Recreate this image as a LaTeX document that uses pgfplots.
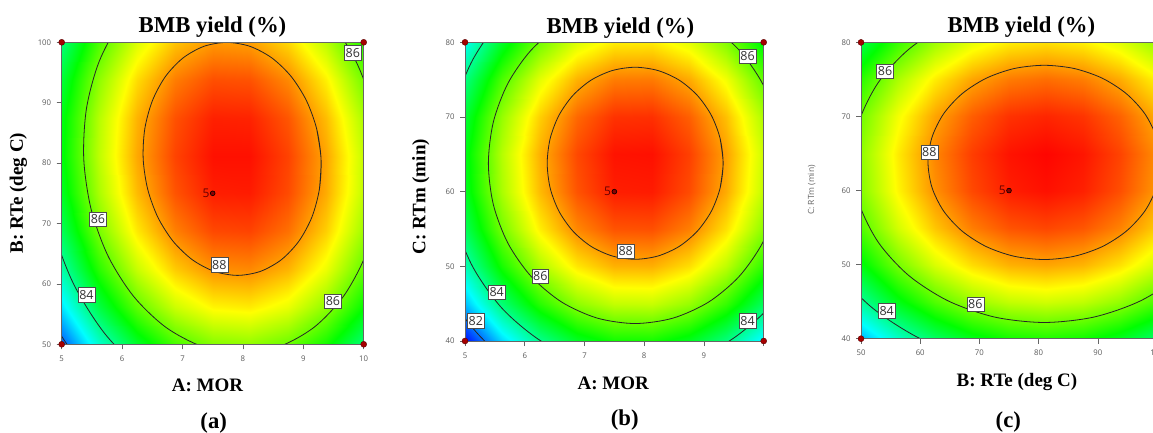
\documentclass[border=0pt]{standalone}
\usepackage{pgfplots}
\usepackage{pgfplotstable}
\pgfplotsset{compat=1.18}
\usepackage{fontspec}
\setmainfont{Liberation Serif}
\newfontfamily\sans{Open Sans}

% response grids (9 x 9, x varies fastest)
\pgfplotstableread[row sep=\\]{
A B Y\\
5 50 81.74\\ 5.625 50 83.45\\ 6.25 50 84.76\\ 6.875 50 85.67\\ 7.5 50 86.17\\ 8.125 50 86.27\\ 8.75 50 85.96\\ 9.375 50 85.25\\ 10 50 84.14\\
5 56.25 82.87\\ 5.625 56.25 84.56\\ 6.25 56.25 85.85\\ 6.875 56.25 86.74\\ 7.5 56.25 87.22\\ 8.125 56.25 87.30\\ 8.75 56.25 86.98\\ 9.375 56.25 86.25\\ 10 56.25 85.12\\
5 62.5 83.76\\ 5.625 62.5 85.43\\ 6.25 62.5 86.71\\ 6.875 62.5 87.57\\ 7.5 62.5 88.04\\ 8.125 62.5 88.10\\ 8.75 62.5 87.76\\ 9.375 62.5 87.01\\ 10 62.5 85.86\\
5 68.75 84.41\\ 5.625 68.75 86.07\\ 6.25 68.75 87.32\\ 6.875 68.75 88.17\\ 7.5 68.75 88.62\\ 8.125 68.75 88.66\\ 8.75 68.75 88.30\\ 9.375 68.75 87.53\\ 10 68.75 86.36\\
5 75 84.83\\ 5.625 75 86.47\\ 6.25 75 87.70\\ 6.875 75 88.53\\ 7.5 75 88.96\\ 8.125 75 88.98\\ 8.75 75 88.60\\ 9.375 75 87.82\\ 10 75 86.63\\
5 81.25 85.01\\ 5.625 81.25 86.63\\ 6.25 81.25 87.85\\ 6.875 81.25 88.66\\ 7.5 81.25 89.07\\ 8.125 81.25 89.07\\ 8.75 81.25 88.67\\ 9.375 81.25 87.87\\ 10 81.25 86.66\\
5 87.5 84.96\\ 5.625 87.5 86.56\\ 6.25 87.5 87.76\\ 6.875 87.5 88.55\\ 7.5 87.5 88.94\\ 8.125 87.5 88.92\\ 8.75 87.5 88.51\\ 9.375 87.5 87.68\\ 10 87.5 86.46\\
5 93.75 84.67\\ 5.625 93.75 86.25\\ 6.25 93.75 87.43\\ 6.875 93.75 88.20\\ 7.5 93.75 88.57\\ 8.125 93.75 88.54\\ 8.75 93.75 88.10\\ 9.375 93.75 87.26\\ 10 93.75 86.02\\
5 100 84.14\\ 5.625 100 85.70\\ 6.25 100 86.86\\ 6.875 100 87.62\\ 7.5 100 87.97\\ 8.125 100 87.92\\ 8.75 100 87.46\\ 9.375 100 86.60\\ 10 100 85.34\\
}\gridAB

\pgfplotstableread[row sep=\\]{
A C Y\\
5 40 81.09\\ 5.625 40 82.73\\ 6.25 40 83.96\\ 6.875 40 84.79\\ 7.5 40 85.22\\ 8.125 40 85.24\\ 8.75 40 84.86\\ 9.375 40 84.08\\ 10 40 82.89\\
5 45 82.53\\ 5.625 45 84.17\\ 6.25 45 85.41\\ 6.875 45 86.24\\ 7.5 45 86.66\\ 8.125 45 86.69\\ 8.75 45 86.31\\ 9.375 45 85.52\\ 10 45 84.33\\
5 50 83.64\\ 5.625 50 85.28\\ 6.25 50 86.51\\ 6.875 50 87.34\\ 7.5 50 87.77\\ 8.125 50 87.79\\ 8.75 50 87.41\\ 9.375 50 86.63\\ 10 50 85.44\\
5 55 84.40\\ 5.625 55 86.04\\ 6.25 55 87.28\\ 6.875 55 88.11\\ 7.5 55 88.53\\ 8.125 55 88.56\\ 8.75 55 88.18\\ 9.375 55 87.39\\ 10 55 86.20\\
5 60 84.83\\ 5.625 60 86.47\\ 6.25 60 87.70\\ 6.875 60 88.53\\ 7.5 60 88.96\\ 8.125 60 88.98\\ 8.75 60 88.60\\ 9.375 60 87.82\\ 10 60 86.63\\
5 65 84.92\\ 5.625 65 86.56\\ 6.25 65 87.79\\ 6.875 65 88.62\\ 7.5 65 89.05\\ 8.125 65 89.07\\ 8.75 65 88.69\\ 9.375 65 87.91\\ 10 65 86.72\\
5 70 84.67\\ 5.625 70 86.31\\ 6.25 70 87.54\\ 6.875 70 88.37\\ 7.5 70 88.80\\ 8.125 70 88.82\\ 8.75 70 88.44\\ 9.375 70 87.66\\ 10 70 86.47\\
5 75 84.08\\ 5.625 75 85.72\\ 6.25 75 86.95\\ 6.875 75 87.78\\ 7.5 75 88.21\\ 8.125 75 88.23\\ 8.75 75 87.85\\ 9.375 75 87.07\\ 10 75 85.88\\
5 80 83.15\\ 5.625 80 84.79\\ 6.25 80 86.02\\ 6.875 80 86.85\\ 7.5 80 87.28\\ 8.125 80 87.30\\ 8.75 80 86.92\\ 9.375 80 86.14\\ 10 80 84.95\\
}\gridAC

\pgfplotstableread[row sep=\\]{
B C Y\\
50 40 82.43\\ 56.25 40 83.48\\ 62.5 40 84.30\\ 68.75 40 84.88\\ 75 40 85.22\\ 81.25 40 85.33\\ 87.5 40 85.20\\ 93.75 40 84.83\\ 100 40 84.23\\
50 45 83.87\\ 56.25 45 84.93\\ 62.5 45 85.74\\ 68.75 45 86.32\\ 75 45 86.66\\ 81.25 45 86.77\\ 87.5 45 86.64\\ 93.75 45 86.28\\ 100 45 85.67\\
50 50 84.98\\ 56.25 50 86.03\\ 62.5 50 86.85\\ 68.75 50 87.42\\ 75 50 87.77\\ 81.25 50 87.87\\ 87.5 50 87.75\\ 93.75 50 87.38\\ 100 50 86.78\\
50 55 85.74\\ 56.25 55 86.80\\ 62.5 55 87.61\\ 68.75 55 88.19\\ 75 55 88.53\\ 81.25 55 88.64\\ 87.5 55 88.51\\ 93.75 55 88.15\\ 100 55 87.54\\
50 60 86.17\\ 56.25 60 87.22\\ 62.5 60 88.04\\ 68.75 60 88.62\\ 75 60 88.96\\ 81.25 60 89.07\\ 87.5 60 88.94\\ 93.75 60 88.57\\ 100 60 87.97\\
50 65 86.26\\ 56.25 65 87.31\\ 62.5 65 88.13\\ 68.75 65 88.71\\ 75 65 89.05\\ 81.25 65 89.16\\ 87.5 65 89.03\\ 93.75 65 88.66\\ 100 65 88.06\\
50 70 86.01\\ 56.25 70 87.06\\ 62.5 70 87.88\\ 68.75 70 88.45\\ 75 70 88.80\\ 81.25 70 88.90\\ 87.5 70 88.78\\ 93.75 70 88.41\\ 100 70 87.81\\
50 75 85.42\\ 56.25 75 86.47\\ 62.5 75 87.29\\ 68.75 75 87.87\\ 75 75 88.21\\ 81.25 75 88.32\\ 87.5 75 88.19\\ 93.75 75 87.82\\ 100 75 87.22\\
50 80 84.49\\ 56.25 80 85.54\\ 62.5 80 86.36\\ 68.75 80 86.94\\ 75 80 87.28\\ 81.25 80 87.39\\ 87.5 80 87.26\\ 93.75 80 86.89\\ 100 80 86.29\\
}\gridBC

\pgfplotsset{
  colormap={dx}{rgb255=(0,0,255) rgb255=(0,255,255) rgb255=(0,255,0) rgb255=(255,255,0) rgb255=(255,0,0)},
  rsm/.style={
    scale only axis, view={0}{90}, colormap name=dx,
    point meta min=81, point meta max=89.2,
    zmin=80, zmax=95, ztick=\empty,
    enlargelimits=false, axis on top,
    tick pos=left, tick align=outside, major tick length=5pt,
    tick style={black!60, line width=0.5pt},
    axis line style={black!60, line width=0.6pt},
    tick label style={font=\sans\fontsize{7.8}{9}\selectfont, text=black!65},
    /pgf/number format/assume math mode=true,
    xticklabel style={yshift=-3pt}, yticklabel style={xshift=-2pt},
  },
  cline/.style={black!85, line width=0.8pt, smooth, no markers},
  corners/.style={only marks, mark=*, mark size=3pt,
    mark options={fill=red!65!black, draw=red!35!black, line width=0.4pt}},
  centre/.style={only marks, mark=*, mark size=2.4pt,
    mark options={fill=red!55!black, draw=black, line width=0.6pt},
    nodes near coords={5},
    every node near coord/.style={anchor=east, inner sep=0.5pt, xshift=-2.5pt,
      font=\sans\fontsize{12}{13}\selectfont, text=red!40!black}},
}
\tikzset{
  clab/.style={draw=black!70, fill=white, line width=0.5pt, inner xsep=1.3pt, inner ysep=2.6pt,
    font=\sans\fontsize{12.5}{13}\selectfont, text=black!80},
  ttl/.style={anchor=base, font=\fontsize{22.7}{26}\selectfont\bfseries},
  lab/.style={anchor=base, font=\fontsize{19}{22}\selectfont\bfseries},
}

\begin{document}
\begin{tikzpicture}

% (a) A: MOR vs B: RTe
\begin{axis}[rsm, at={(61.7pt,87.7pt)}, width=302pt, height=302pt,
  xmin=5, xmax=10, ymin=50, ymax=100,
  xtick={5,6,7,8,9,10}, ytick={50,60,70,80,90,100}]
\addplot3[surf, shader=interp, mesh/cols=9] table[x=A, y=B, z=Y] {\gridAB};
\addplot3[cline] coordinates {(9.267,75.71,90) (9.294,80.70,90) (9.221,85.69,90) (9.052,90.34,90) (8.800,94.33,90) (8.481,97.40,90) (8.117,99.33,90) (7.732,99.98,90) (7.354,99.33,90) (7.008,97.40,90) (6.717,94.33,90) (6.502,90.34,90) (6.376,85.69,90) (6.349,80.70,90) (6.423,75.71,90) (6.591,71.05,90) (6.844,67.06,90) (7.163,64.00,90) (7.527,62.07,90) (7.911,61.41,90) (8.289,62.07,90) (8.636,64.00,90) (8.926,67.06,90) (9.142,71.05,90) (9.267,75.71,90) (9.294,80.70,90) (9.221,85.69,90)};
\addplot3[cline] coordinates {(10.279,80.70,90) (10.157,89.03,90) (9.875,96.79,90) (9.454,103.45,90) (8.921,108.57,90) (8.314,111.78,90) (7.672,112.88,90) (7.042,111.78,90) (6.464,108.57,90) (5.979,103.45,90) (5.619,96.79,90) (5.410,89.03,90) (5.365,80.70,90) (5.487,72.37,90) (5.768,64.61,90) (6.190,57.94,90) (6.722,52.83,90) (7.330,49.62,90) (7.971,48.52,90) (8.602,49.62,90) (9.180,52.83,90) (9.665,57.94,90) (10.025,64.61,90) (10.234,72.37,90) (10.279,80.70,90)};
\addplot3[cline] coordinates {(4.674,80.70,90) (4.831,70.03,90) (5.192,60.09,90) (5.731,51.55,90) (6.414,45.00,90) (7.192,40.88,90)};
\addplot3[cline] coordinates {(4.72,56.39,90) (5.014,51.10,90) (5.357,46.32,90)};
\addplot3[corners] coordinates {(5,50,90) (10,50,90) (5,100,90) (10,100,90)};
\addplot3[centre] coordinates {(7.5,75,90)};
\node[clab] at (axis cs:9.82,98.3,90) {86};
\node[clab] at (axis cs:5.60,70.7,90) {86};
\node[clab] at (axis cs:7.61,63.2,90) {88};
\node[clab] at (axis cs:5.41,58.2,90) {84};
\node[clab] at (axis cs:9.49,57.1,90) {86};
\end{axis}

% (b) A: MOR vs C: RTm
\begin{axis}[rsm, at={(465pt,91pt)}, width=298.7pt, height=298.7pt,
  xmin=5, xmax=10, ymin=40, ymax=80,
  xtick={5,6,7,8,9,10}, xticklabels={5,6,7,8,9,{}}, ytick={40,50,60,70,80}]
\addplot3[surf, shader=interp, mesh/cols=9] table[x=A, y=C, z=Y] {\gridAC};
\addplot3[cline] coordinates {(9.270,60.47,90) (9.321,63.80,90) (9.270,67.13,90) (9.123,70.23,90) (8.889,72.89,90) (8.584,74.94,90) (8.229,76.22,90) (7.848,76.66,90) (7.467,76.22,90) (7.112,74.94,90) (6.807,72.89,90) (6.573,70.23,90) (6.426,67.13,90) (6.376,63.80,90) (6.426,60.47,90) (6.573,57.37,90) (6.807,54.71,90) (7.112,52.66,90) (7.467,51.38,90) (7.848,50.94,90) (8.229,51.38,90) (8.584,52.66,90) (8.889,54.71,90) (9.123,57.37,90) (9.270,60.47,90) (9.321,63.80,90) (9.270,67.13,90)};
\addplot3[cline] coordinates {(10.305,63.80,90) (10.222,69.35,90) (9.976,74.53,90) (9.586,78.98,90) (9.077,82.39,90) (8.484,84.53,90) (7.848,85.26,90) (7.212,84.53,90) (6.619,82.39,90) (6.110,78.98,90) (5.720,74.53,90) (5.475,69.35,90) (5.391,63.80,90) (5.475,58.25,90) (5.720,53.07,90) (6.110,48.62,90) (6.619,45.21,90) (7.212,43.07,90) (7.848,42.34,90) (8.484,43.07,90) (9.077,45.21,90) (9.586,48.62,90) (9.976,53.07,90) (10.222,58.25,90) (10.305,63.80,90)};
\addplot3[cline] coordinates {(10.996,63.80,90) (10.889,70.92,90) (10.574,77.55,90) (10.074,83.24,90) (9.422,87.61,90) (8.663,90.36,90) (7.848,91.29,90) (7.033,90.36,90) (6.274,87.61,90) (5.622,83.24,90) (5.122,77.55,90) (4.808,70.92,90) (4.700,63.80,90) (4.808,56.69,90) (5.122,50.05,90) (5.622,44.36,90) (6.274,39.99,90) (7.033,37.25,90) (7.848,36.31,90) (8.663,37.25,90) (9.422,39.99,90) (10.074,44.36,90) (10.574,50.05,90) (10.889,56.69,90) (10.996,63.80,90)};
\addplot3[cline] coordinates {(4.634,47.59,90) (4.903,44.06,90) (5.223,40.88,90) (5.588,38.08,90) (5.992,35.72,90)};
\addplot3[corners] coordinates {(5,40,90) (10,40,90) (5,80,90) (10,80,90)};
\addplot3[centre] coordinates {(7.5,60,90)};
\node[clab] at (axis cs:9.73,78.1,90) {86};
\node[clab] at (axis cs:7.69,52.0,90) {88};
\node[clab] at (axis cs:6.26,48.7,90) {86};
\node[clab] at (axis cs:5.53,46.5,90) {84};
\node[clab] at (axis cs:5.18,42.7,90) {82};
\node[clab] at (axis cs:9.73,42.7,90) {84};
\end{axis}

% (c) B: RTe vs C: RTm
\begin{axis}[rsm, at={(861pt,93.3pt)}, width=296pt, height=296.3pt,
  xmin=50, xmax=100, ymin=40, ymax=80,
  xtick={50,60,70,80,90,100}, ytick={40,50,60,70,80}]
\addplot3[surf, shader=interp, mesh/cols=9] table[x=B, y=C, z=Y] {\gridBC};
\addplot3[cline] coordinates {(99.91,60.41,90) (100.58,63.80,90) (99.91,67.19,90) (97.95,70.36,90) (94.83,73.07,90) (90.77,75.16,90) (86.03,76.47,90) (80.95,76.91,90) (75.87,76.47,90) (71.14,75.16,90) (67.07,73.07,90) (63.95,70.36,90) (61.99,67.19,90) (61.32,63.80,90) (61.99,60.41,90) (63.95,57.24,90) (67.07,54.53,90) (71.14,52.44,90) (75.87,51.13,90) (80.95,50.69,90) (86.03,51.13,90) (90.77,52.44,90) (94.83,54.53,90) (97.95,57.24,90) (99.91,60.41,90) (100.58,63.80,90) (99.91,67.19,90)};
\addplot3[cline] coordinates {(113.30,63.80,90) (112.20,69.39,90) (108.97,74.61,90) (103.83,79.08,90) (97.13,82.52,90) (89.33,84.68,90) (80.95,85.41,90) (72.58,84.68,90) (64.78,82.52,90) (58.08,79.08,90) (52.94,74.61,90) (49.70,69.39,90) (48.60,63.80,90) (49.70,58.21,90) (52.94,52.99,90) (58.08,48.52,90) (64.78,45.08,90) (72.58,42.92,90) (80.95,42.19,90) (89.33,42.92,90) (97.13,45.08,90) (103.83,48.52,90) (108.97,52.99,90) (112.20,58.21,90) (113.30,63.80,90)};
\addplot3[cline] coordinates {(41.03,56.65,90) (45.16,49.99,90) (51.73,44.28,90) (60.29,39.89,90) (70.26,37.13,90)};
\addplot3[corners] coordinates {(50,40,90) (100,40,90) (50,80,90) (100,80,90)};
\addplot3[centre] coordinates {(75,60,90)};
\node[clab] at (axis cs:54.06,76.13,90) {86};
\node[clab] at (axis cs:61.55,65.15,90) {88};
\node[clab] at (axis cs:69.32,44.68,90) {86};
\node[clab] at (axis cs:54.34,43.78,90) {84};
\end{axis}

% titles, axis names and panel letters
\node[ttl] at (212.5pt,399.7pt) {BMB yield (\%)};
\node[ttl] at (620.3pt,398.7pt) {BMB yield (\%)};
\node[ttl] at (1021.3pt,399.7pt) {BMB yield (\%)};
\node[lab] at (207.5pt,40.3pt) {A: MOR};
\node[lab] at (613.3pt,42.7pt) {A: MOR};
\node[lab] at (1017pt,45.3pt) {B: RTe (deg C)};
\node[lab, anchor=center, inner sep=0pt, rotate=90] at (18.3pt,239pt) {B: RTe (deg C)};
\node[lab, anchor=center, inner sep=0pt, rotate=90] at (420.8pt,235.3pt) {C: RTm (min)};
\node[rotate=90, inner sep=0pt, font=\sans\fontsize{8.5}{10}\selectfont, text=black!60] at (811.7pt,242pt) {C: RTm (min)};
\node[ttl] at (213.7pt,3.7pt) {(a)};
\node[ttl] at (624.7pt,7pt) {(b)};
\node[ttl] at (1008.3pt,4.3pt) {(c)};

\pgfresetboundingbox
\path[use as bounding box] (0pt,0pt) rectangle (1153pt,432pt);
\end{tikzpicture}
\end{document}
